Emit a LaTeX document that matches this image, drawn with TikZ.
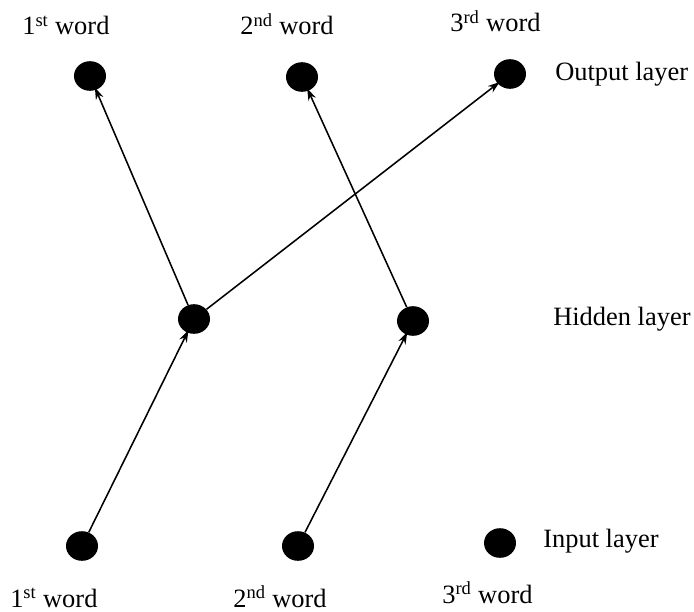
\documentclass[tikz,border=0pt]{standalone}
\usepackage{fontspec}
\setmainfont{Liberation Serif}
\usetikzlibrary{arrows.meta,positioning,shapes.geometric}

\begin{document}
\begin{tikzpicture}[
  x=0.025cm, y=-0.025cm,
  unit/.style={ellipse, fill=black, minimum width=0.8cm, minimum height=0.74cm, inner sep=0pt},
  wordlabel/.style={anchor=base west, inner sep=0pt, font=\fontsize{18.8}{22}\selectfont},
  layerlabel/.style={wordlabel},
  arr/.style={-{Stealth[length=3mm, width=2mm]}, line width=1.1pt, shorten >=-2pt},
]
\useasboundingbox (0,0) rectangle (694,611);

% ===== output layer =====
\node[unit] (o1) at (90,76) {};
\node[unit] (o2) at (302,77) {};
\node[unit] (o3) at (510,74) {};
\node[wordlabel] (ow1) at (22,35) {1\textsuperscript{st} word};
\node[wordlabel] (ow2) at (240,35) {2\textsuperscript{nd} word};
\node[wordlabel] (ow3) at (450,32) {3\textsuperscript{rd} word};
\node[layerlabel] (lo) at (555,80) {Output layer};

% ===== hidden layer =====
\node[unit] (h1) at (194,319) {};
\node[unit] (h2) at (413,321) {};
\node[layerlabel] (lh) at (553,325) {Hidden layer};

% ===== input layer =====
\node[unit] (i1) at (82,546) {};
\node[unit] (i2) at (298,546) {};
\node[unit] (i3) at (500,543) {};
\node[wordlabel] (iw1) at (10,607) {1\textsuperscript{st} word};
\node[wordlabel] (iw2) at (233,607) {2\textsuperscript{nd} word};
\node[wordlabel] (iw3) at (442,603) {3\textsuperscript{rd} word};
\node[layerlabel] (li) at (543,547) {Input layer};

% ===== connections =====
\draw[arr] (i1) -- (h1);
\draw[arr] (i2) -- (h2);
\draw[arr] (h1) -- (o1);
\draw[arr] (h1) -- (o3);
\draw[arr] (h2) -- (o2);

\end{tikzpicture}
\end{document}
